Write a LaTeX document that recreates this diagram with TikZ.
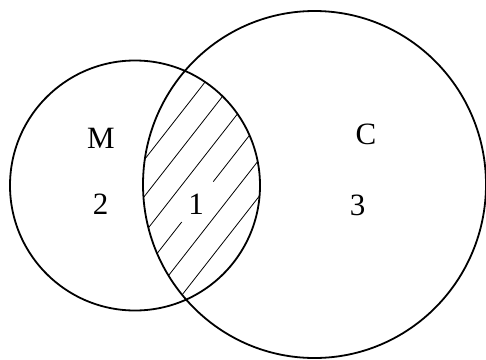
\documentclass[tikz,border=0pt]{standalone}
\usepackage{fontspec}
\setmainfont{Liberation Serif}
\begin{document}
\begin{tikzpicture}[x=1pt,y=-1pt,
  setline/.style={line width=1.8pt},
  hatchline/.style={line width=0.8pt},
  lbl/.style={inner sep=0pt,font=\fontsize{31}{31}\selectfont}]
\useasboundingbox (0,0) rectangle (486,359);
% hatching of the intersection
\begin{scope}
  \clip (135,185.5) circle [radius=125];
  \clip (314.5,184.5) ellipse [x radius=171.5, y radius=173.5];
  \draw[hatchline] (43.9,288.2) -- (290.3,-27.0);
  \draw[hatchline] (61.7,302.1) -- (308.1,-13.1);
  \draw[hatchline] (79.5,316.0) -- (325.9,0.8);
  \draw[hatchline] (97.3,330.0) -- (181.7,222.0);
  \draw[hatchline] (213.3,181.6) -- (343.7,14.8);
  \draw[hatchline] (115.1,343.9) -- (361.5,28.7);
  \draw[hatchline] (132.9,357.8) -- (379.3,42.6);
\end{scope}
% sets
\draw[setline] (135,185.5) circle [radius=125];
\draw[setline] (314.5,184.5) ellipse [x radius=171.5, y radius=173.5];
% labels
\node[lbl] (M) at (101,138) {M};
\node[lbl] (C) at (366,134) {C};
\node[lbl] (two) at (100.5,204) {2};
\node[lbl] (one) at (196,204) {1};
\node[lbl] (three) at (357.5,205) {3};
\end{tikzpicture}
\end{document}
